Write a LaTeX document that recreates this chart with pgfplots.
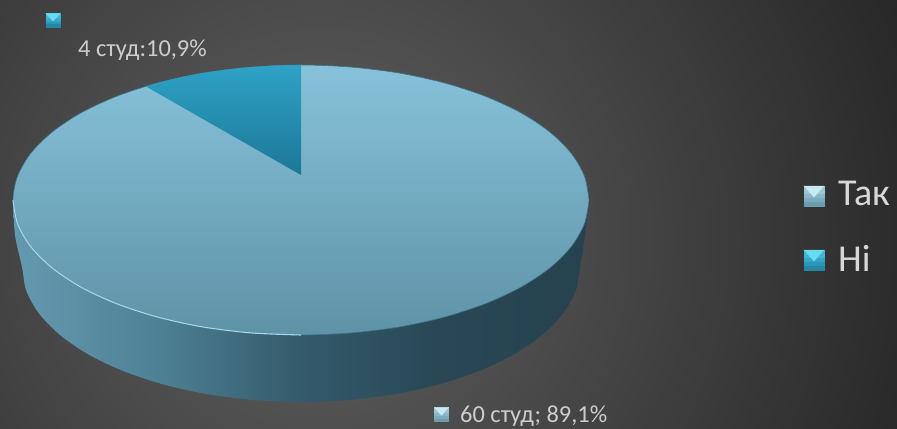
\documentclass[border=0pt]{standalone}
\usepackage{fontspec}
\setmainfont{Carlito}
\usepackage{pgfplots}
\pgfplotsset{compat=1.18}

\definecolor{rimlight}{HTML}{A6D8E6}
\definecolor{lbl}{HTML}{CDCDCD}
\definecolor{legtxt}{HTML}{D8D8D8}
\definecolor{sa}{HTML}{649AB0}
\definecolor{sb}{HTML}{4F8296}
\definecolor{sc}{HTML}{345A6B}
\definecolor{sd}{HTML}{294755}
\definecolor{se}{HTML}{26424F}
\definecolor{topa}{HTML}{87C2DA}
\definecolor{topb}{HTML}{5E92A7}
\definecolor{wedgea}{HTML}{2EA2C6}
\definecolor{wedgeb}{HTML}{1C7796}
\definecolor{edgeblue}{HTML}{3C7387}
\definecolor{ya}{HTML}{9CC6D4}
\definecolor{yb}{HTML}{5A8FA5}
\definecolor{yc}{HTML}{C8EAF2}
\definecolor{na}{HTML}{3FB4D6}
\definecolor{nb}{HTML}{1A7896}
\definecolor{nc}{HTML}{66DCF2}

% side wall of the pie, light on the left and dark on the right
\pgfdeclarehorizontalshading{sidewall}{100bp}{
  color(0bp)=(sa); color(25bp)=(sa);
  color(37bp)=(sb); color(50bp)=(sc);
  color(62bp)=(sd); color(75bp)=(se); color(100bp)=(se)}

% legend squares, graded in strips with a light triangle on top
\pgfdeclareplotmark{bevelyes}{%
  \def\s{\pgfplotmarksize}
  \fill[ya] (-\s,-\s) rectangle (\s,\s);
  \fill[ya!75!yb] (-\s,0.2*\s) rectangle (\s,-\s);
  \fill[ya!50!yb] (-\s,-0.2*\s) rectangle (\s,-\s);
  \fill[ya!25!yb] (-\s,-0.6*\s) rectangle (\s,-\s);
  \fill[yc] (-\s,\s) -- (\s,\s) -- (0,-0.1*\s) -- cycle;
}
\pgfdeclareplotmark{bevelno}{%
  \def\s{\pgfplotmarksize}
  \fill[na] (-\s,-\s) rectangle (\s,\s);
  \fill[na!75!nb] (-\s,0.2*\s) rectangle (\s,-\s);
  \fill[na!50!nb] (-\s,-0.2*\s) rectangle (\s,-\s);
  \fill[na!25!nb] (-\s,-0.6*\s) rectangle (\s,-\s);
  \fill[nc] (-\s,\s) -- (\s,\s) -- (0,-0.1*\s) -- cycle;
}

\begin{document}
\begin{tikzpicture}
\useasboundingbox (0,0) rectangle (897bp,429bp);
\begin{scope}
  \clip (0,0) rectangle (897bp,429bp);
  \fill[black!85] (0,0) rectangle (897bp,429bp);
  \shade[inner color=black!62, outer color=black!85] (320bp,190bp) circle (640bp);
\end{scope}
\begin{axis}[
  at={(0,0)}, anchor=south west,
  scale only axis, width=897bp, height=429bp,
  xmin=0, xmax=897, ymin=0, ymax=429, y dir=reverse,
  hide axis, clip=false
]
% side wall
\addplot[draw=none, shading=sidewall, smooth] coordinates {
  (13,200) (15,235) (22,267) (26.2,290.4) (38.8,313.2) (59.4,334.5) (87.3,353.8)
  (121.7,370.4) (161.5,383.9) (205.6,393.9) (252.6,399.9) (301,402) (349.4,399.9)
  (396.4,393.9) (440.5,383.9) (480.3,370.4) (514.7,353.8) (542.6,334.5) (563.2,313.2)
  (575.8,290.4) (580,267) (585,235) (589,200)
};
% top face, share Tak
\addplot[draw=edgeblue, line width=0.6bp, top color=topa, bottom color=topb, smooth] coordinates {
  (589,200) (584.6,176.6) (571.6,153.8) (550.4,132.5) (521.6,113.2) (486.1,96.6)
  (445,83.1) (399.5,73.1) (351,67.1) (301,65) (251,67.1) (202.5,73.1) (157,83.1)
  (115.9,96.6) (80.4,113.2) (51.6,132.5) (30.4,153.8) (17.4,176.6) (13,200)
  (17.4,223.4) (30.4,246.2) (51.6,267.5) (80.4,286.8) (115.9,303.4) (157,316.9)
  (202.5,326.9) (251,332.9) (301,335) (351,332.9) (399.5,326.9) (445,316.9)
  (486.1,303.4) (521.6,286.8) (550.4,267.5) (571.6,246.2) (584.6,223.4) (589,200)
};
% rim highlight along the front edge
\addplot[rimlight, line width=1.1bp, smooth] coordinates {
  (13,200) (17.4,223.4) (30.4,246.2) (51.6,267.5) (80.4,286.8) (115.9,303.4)
  (157,316.9) (202.5,326.9) (251,332.9) (301,335)
};
% wedge, share Ni
\addplot[draw=none, top color=wedgea, bottom color=wedgeb] coordinates {
  (301,175) (146,86.5) (157,83.1) (179.3,77.6) (202.5,73.1) (226.5,69.6)
  (251,67.1) (275.9,65.5) (301,65)
} -- cycle;

% legend and label markers
\addplot[only marks, mark=bevelyes, mark size=10bp] coordinates {(814,196)};
\addplot[only marks, mark=bevelno, mark size=10bp] coordinates {(814,260)};
\addplot[only marks, mark=bevelno, mark size=7bp] coordinates {(53,20.5)};
\addplot[only marks, mark=bevelyes, mark size=7bp] coordinates {(441.5,414.5)};

\node[anchor=base west, inner sep=0pt, text=lbl, font=\fontsize{24.4bp}{27bp}\selectfont] at (axis cs:78,57) {4 студ:10,9\%};
\node[anchor=base west, inner sep=0pt, text=lbl, font=\fontsize{24.4bp}{27bp}\selectfont] at (axis cs:460,422) {60 студ; 89,1\%};
\node[anchor=base west, inner sep=0pt, text=legtxt, font=\fontsize{38bp}{42bp}\selectfont] at (axis cs:838,205.5) {Так};
\node[anchor=base west, inner sep=0pt, text=legtxt, font=\fontsize{38bp}{42bp}\selectfont] at (axis cs:838,271.5) {Ні};
\end{axis}
\end{tikzpicture}
\end{document}
